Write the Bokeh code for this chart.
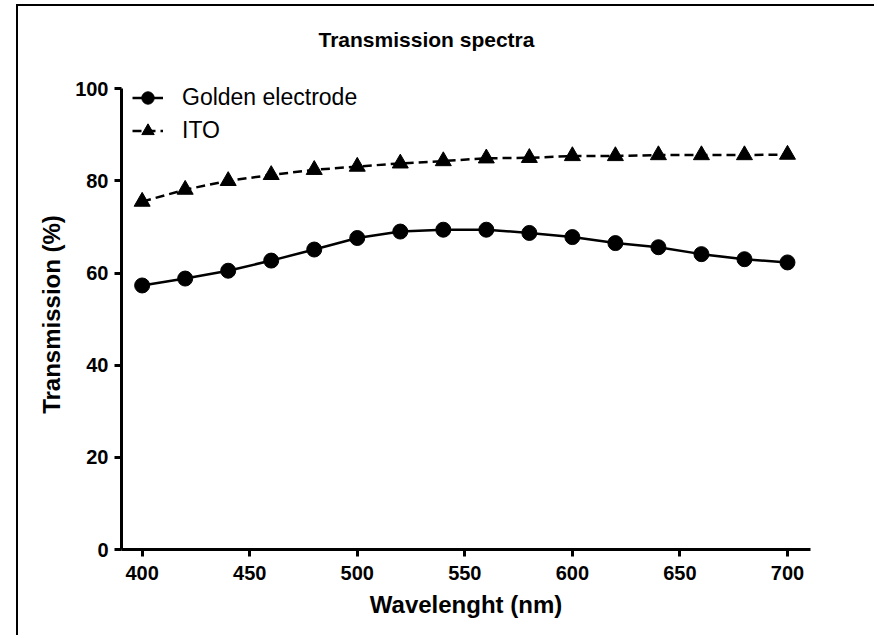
from bokeh.plotting import figure
from bokeh.models import Range1d, FixedTicker, Legend, LegendItem, Title
from bokeh.embed import file_html
from bokeh.resources import INLINE

wavelength = [400, 420, 440, 460, 480, 500, 520, 540, 560, 580, 600, 620, 640, 660, 680, 700]
golden = [57.3, 58.8, 60.5, 62.7, 65.1, 67.6, 69.0, 69.4, 69.4, 68.7, 67.8, 66.5, 65.6, 64.1, 63.0, 62.3]
ito = [75.5, 78.1, 80.0, 81.3, 82.4, 83.1, 83.8, 84.3, 84.9, 85.0, 85.4, 85.4, 85.6, 85.6, 85.6, 85.7]
x_ticks = [400, 450, 500, 550, 600, 650, 700]
y_ticks = [0, 20, 40, 60, 80, 100]
title_text = "Transmission spectra"

FONT = "Liberation Sans"

p = figure(width=858, height=631, output_backend="svg", toolbar_location=None, title=None,
           x_range=Range1d(390.4, 710.7), y_range=Range1d(0, 102),
           min_border_left=103, min_border_right=66, min_border_top=73, min_border_bottom=88)
p.styles = {"margin-left": "16px", "margin-top": "4px",
            "border-left": "2px solid #000", "border-top": "2px solid #000"}

# spacer between the frame and the title (pushes the title upward)
spacer = Title(text=" ", text_font_size="2px", standoff=20)
p.add_layout(spacer, "above")
title = Title(text=title_text, text_font=FONT, text_font_size="21px", text_font_style="bold",
              text_color="black", align="left", offset=197, standoff=10)
p.add_layout(title, "above")

p.grid.visible = False
p.outline_line_color = None

for ax in (p.xaxis[0], p.yaxis[0]):
    ax.axis_line_width = 3
    ax.axis_line_color = "black"
    ax.major_tick_line_width = 3
    ax.major_tick_line_color = "black"
    ax.major_tick_out = 7
    ax.major_tick_in = 0
    ax.minor_tick_line_color = None
    ax.major_label_text_font = FONT
    ax.major_label_text_font_size = "20px"
    ax.major_label_text_font_style = "bold"
    ax.major_label_text_color = "black"
    ax.axis_label_text_font = FONT
    ax.axis_label_text_font_size = "24px"
    ax.axis_label_text_font_style = "bold"
    ax.axis_label_text_color = "black"

p.xaxis[0].ticker = FixedTicker(ticks=x_ticks)
p.yaxis[0].ticker = FixedTicker(ticks=y_ticks)
p.yaxis[0].bounds = (0, 100)
p.xaxis[0].axis_label = "Wavelenght (nm)"
p.yaxis[0].axis_label = "Transmission (%)"
p.xaxis[0].major_label_standoff = 9
p.yaxis[0].major_label_standoff = 6
p.xaxis[0].axis_label_standoff = 8
p.yaxis[0].axis_label_standoff = 7

gl = p.line(wavelength, golden, line_color="black", line_width=2.5)
gs = p.scatter(wavelength, golden, marker="circle", size=15, fill_color="black", line_color="black")
il = p.line(wavelength, ito, line_color="black", line_width=2.5, line_dash="9 5")
is_ = p.scatter(wavelength, ito, marker="triangle", size=16, fill_color="black", line_color="black")

legend = Legend(items=[LegendItem(label="Golden electrode", renderers=[gl, gs]),
                       LegendItem(label="ITO", renderers=[il, is_])],
                location=(11, 403))
legend.background_fill_alpha = 0
legend.border_line_color = None
legend.padding = 0
legend.margin = 0
legend.spacing = 2
legend.glyph_width = 31
legend.glyph_height = 31
legend.label_height = 31
legend.label_width = 200
legend.label_standoff = 19
legend.label_text_font = FONT
legend.label_text_font_size = "23px"
legend.label_text_color = "black"
p.add_layout(legend, "center")

open("out.html", "w").write(file_html(p, INLINE))
